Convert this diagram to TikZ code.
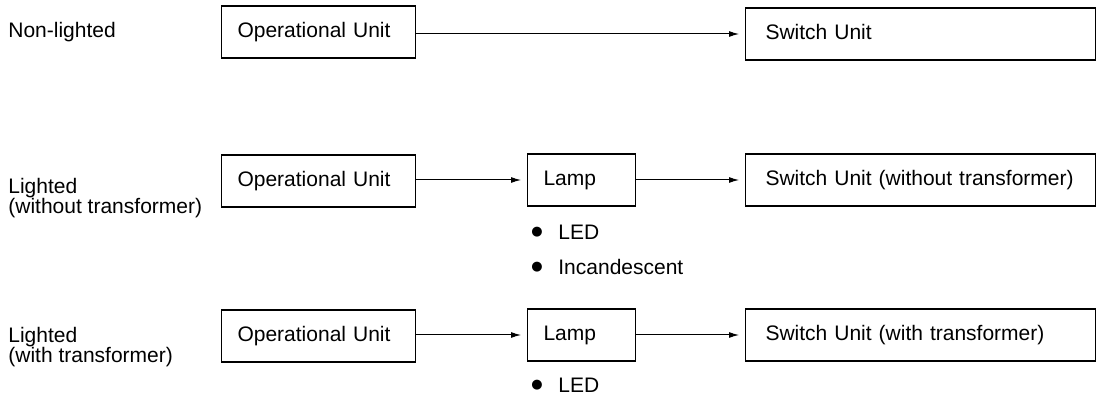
\documentclass[tikz,border=0pt]{standalone}
\usepackage{fontspec}
\setmainfont{Liberation Sans}
\newfontfamily\symfont{DejaVu Sans}
\usetikzlibrary{arrows.meta, positioning}

\tikzset{
  unitbox/.style={draw, line width=0.55pt, anchor=west, minimum height=26pt,
    inner xsep=8pt, text height=7.6pt, text depth=2.2pt, align=left},
  flow/.style={-{Latex[length=5pt, width=3pt]}, line width=0.5pt, shorten >=3pt},
  rowlabel/.style={anchor=west, align=left, inner sep=0pt},
  bulletitem/.style={anchor=west, inner sep=0pt}
}
\newcommand{\itemdot}{{\symfont\fontsize{6.5}{6.5}\selectfont ●}}

\begin{document}
\begin{tikzpicture}[x=0.5pt, y=-0.5pt, font=\fontsize{10.5}{10}\selectfont]
  \useasboundingbox (0,0) rectangle (1100,401);
  % Row 1: Non-lighted
  \node[rowlabel] (lblA) at (8,32) {Non-lighted};
  \node[unitbox, text width=81pt] (opA) at (221,32) {Operational Unit};
  \node[unitbox, text width=155pt, inner xsep=10pt] (swA) at (745,34) {Switch Unit};
  \draw[flow] (opA.east |- swA.west) -- (swA.west);
  % Row 2: Lighted (without transformer)
  \node[rowlabel] (lblB) at (8,198) {Lighted\\(without transformer)};
  \node[unitbox, text width=81pt] (opB) at (221,181) {Operational Unit};
  \node[unitbox, text width=38pt] (lampB) at (527,180) {Lamp};
  \node[unitbox, text width=155pt, inner xsep=10pt] (swB) at (745,180) {Switch Unit (without transformer)};
  \draw[flow] (opB.east |- lampB.west) -- (lampB.west);
  \draw[flow] (lampB) -- (swB);
  \node[bulletitem] (dotB1) at (531,232) {\itemdot};
  \node[bulletitem] (ledB) at (558,232) {LED};
  \node[bulletitem] (dotB2) at (531,267) {\itemdot};
  \node[bulletitem] (incB) at (558,267) {Incandescent};
  % Row 3: Lighted (with transformer)
  \node[rowlabel] (lblC) at (8,347) {Lighted\\(with transformer)};
  \node[unitbox, text width=81pt] (opC) at (221,336) {Operational Unit};
  \node[unitbox, text width=38pt] (lampC) at (527,335) {Lamp};
  \node[unitbox, text width=155pt, inner xsep=10pt] (swC) at (745,335) {Switch Unit (with transformer)};
  \draw[flow] (opC.east |- lampC.west) -- (lampC.west);
  \draw[flow] (lampC) -- (swC);
  \node[bulletitem] (dotC1) at (531,385) {\itemdot};
  \node[bulletitem] (ledC) at (558,385) {LED};
\end{tikzpicture}
\end{document}
